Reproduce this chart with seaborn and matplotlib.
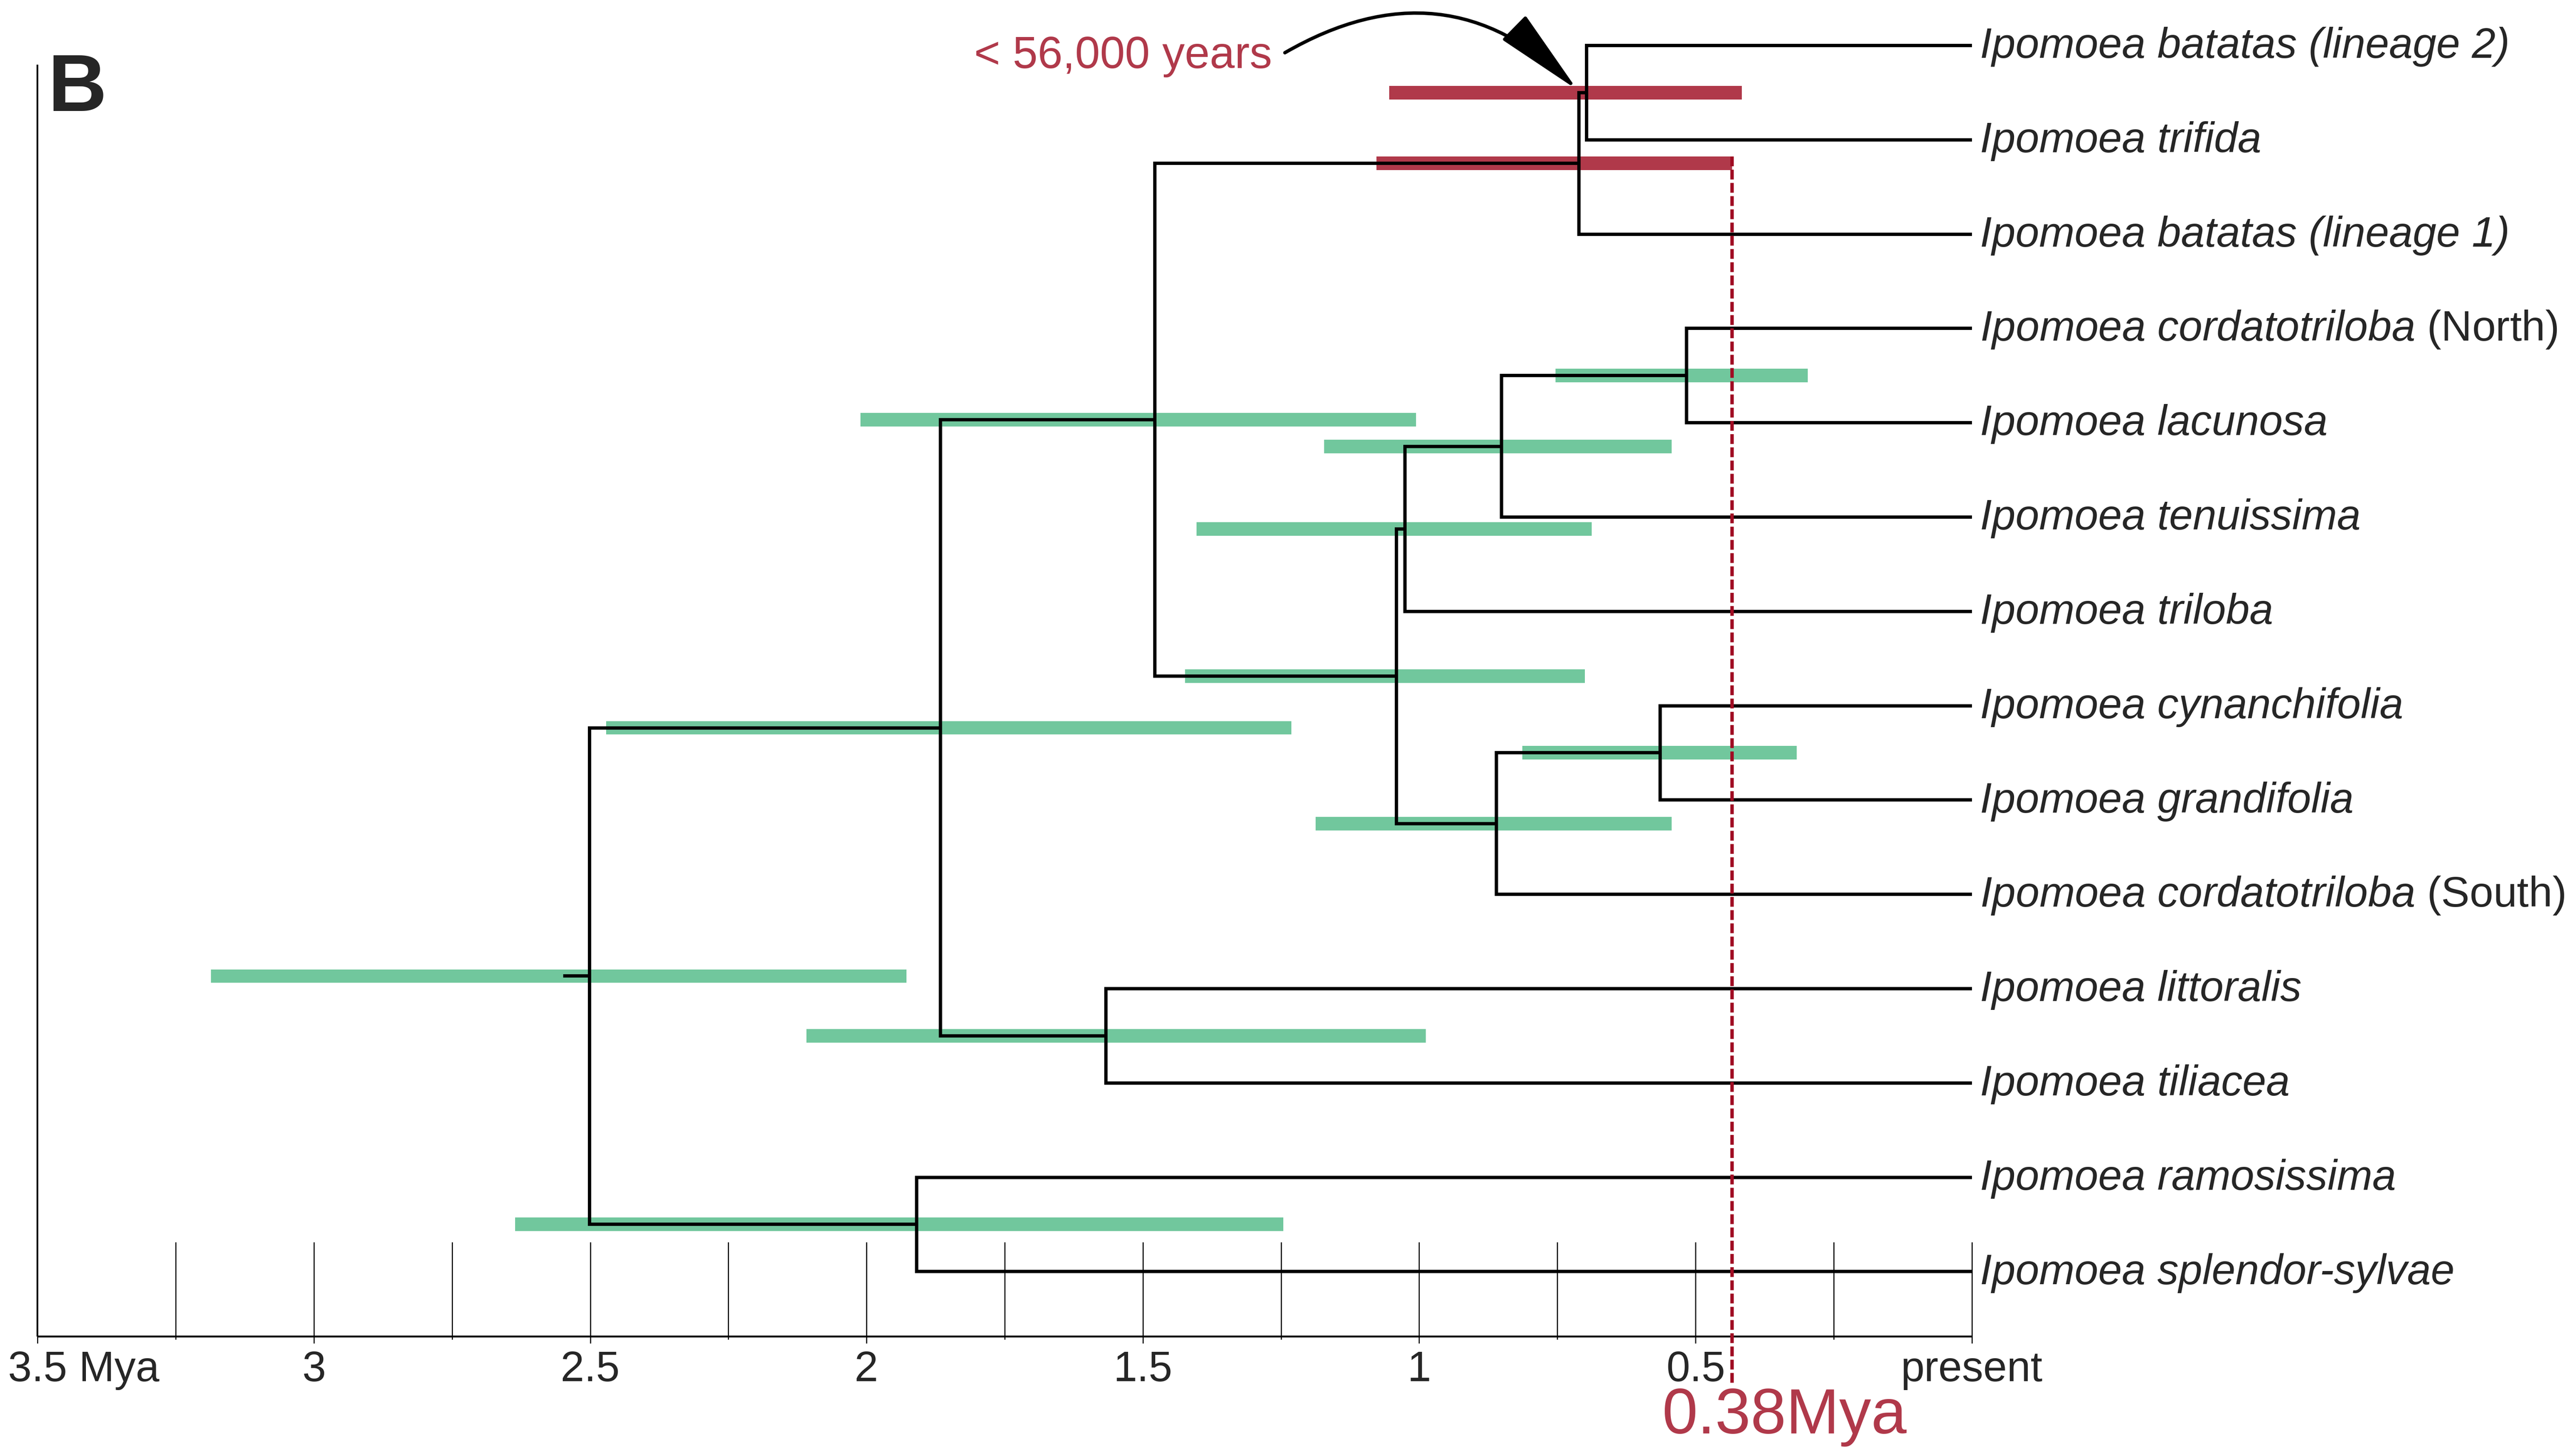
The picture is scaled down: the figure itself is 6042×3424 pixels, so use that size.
'''
Dated phylogeny of Ipomoea (sweet potato and wild relatives) with
95% HPD bars on the node ages, drawn with seaborn + matplotlib.
'''

import numpy as np
import pandas as pd
import matplotlib
matplotlib.use("Agg")
import matplotlib.pyplot as plt
import seaborn as sns

# ---- data ---------------------------------------------------------------
# tips, top to bottom (italic part, roman suffix)
TIP_NAMES = [
    "Ipomoea batatas (lineage 2)",
    "Ipomoea trifida",
    "Ipomoea batatas (lineage 1)",
    "Ipomoea cordatotriloba",
    "Ipomoea lacunosa",
    "Ipomoea tenuissima",
    "Ipomoea triloba",
    "Ipomoea cynanchifolia",
    "Ipomoea grandifolia",
    "Ipomoea cordatotriloba",
    "Ipomoea littoralis",
    "Ipomoea tiliacea",
    "Ipomoea ramosissima",
    "Ipomoea splendor-sylvae",
]
TIP_SUFFIX = ["", "", "", " (North)", "", "", "", "", "", " (South)", "", "", "", ""]

# internal nodes: children (tip index or node name), age in Mya, HPD interval
NODE_NAMES = ["bat2_tri", "batatas", "N1", "N2", "N3", "N4", "N5", "N6",
              "NA", "N7", "N8", "N9", "root"]
NODE_CHILDREN = [(0, 1), ("bat2_tri", 2), (3, 4), ("N1", 5), ("N2", 6),
                 (7, 8), ("N4", 9), ("N3", "N5"), ("batatas", "N6"),
                 (10, 11), ("NA", "N7"), (12, 13), ("N8", "N9")]
NODE_AGES = [0.697, 0.711, 0.516, 0.851, 1.026, 0.564, 0.860, 1.041,
             1.478, 1.567, 1.866, 1.909, 2.501]
HPD_OLD = [1.054, 1.077, 0.753, 1.172, 1.403, 0.813, 1.187, 1.424,
           2.011, 2.109, 2.471, 2.636, 3.186]
HPD_YOUNG = [0.416, 0.434, 0.297, 0.543, 0.688, 0.317, 0.543, 0.700,
             1.006, 0.988, 1.231, 1.246, 1.928]
NODE_GROUP = ["batatas", "batatas"] + ["other"] * 11
ROOT_STEM_AGE = 2.549

MAJOR_TICKS = [3.5, 3.0, 2.5, 2.0, 1.5, 1.0, 0.5, 0.0]
MAJOR_LABELS = ["3.5 Mya", "3", "2.5", "2", "1.5", "1", "0.5", "present"]
MINOR_TICKS = [3.25, 2.75, 2.25, 1.75, 1.25, 0.75, 0.25]

MARK_AGE = 0.434          # dashed marker line
MARK_LABEL = "0.38Mya"
NOTE_LABEL = "< 56,000 years"

GROUP_COLORS = {"batatas": "#B0394A", "other": "#71C79D"}
RED_TEXT = "#B0394A"
DASH_RED = "#A00C23"

# ---- style ---------------------------------------------------------------
sns.set_theme(style="white")
plt.rcParams["font.family"] = ["Liberation Sans", "DejaVu Sans"]
plt.rcParams["mathtext.fontset"] = "custom"
plt.rcParams["mathtext.it"] = "Liberation Sans:italic"
plt.rcParams["mathtext.rm"] = "Liberation Sans"

fig = plt.figure(figsize=(30.21, 17.12), dpi=200)
ax = fig.add_axes([0, 0, 1, 1])

# ---- node positions ------------------------------------------------------
ypos = {i: float(i) for i in range(len(TIP_NAMES))}
xpos = {i: 0.0 for i in range(len(TIP_NAMES))}
for name, (a, b), age in zip(NODE_NAMES, NODE_CHILDREN, NODE_AGES):
    ypos[name] = (ypos[a] + ypos[b]) / 2
    xpos[name] = age

# ---- branches (elbow paths) ---------------------------------------------
rows = []
seg = 0
for name, children in zip(NODE_NAMES, NODE_CHILDREN):
    for c in children:
        rows += [(seg, xpos[name], ypos[name]),
                 (seg, xpos[name], ypos[c]),
                 (seg, xpos[c], ypos[c])]
        seg += 1
root = NODE_NAMES[-1]
rows += [(seg, ROOT_STEM_AGE, ypos[root]), (seg, xpos[root], ypos[root])]
branches = pd.DataFrame(rows, columns=["seg", "age", "y"])

sns.lineplot(data=branches, x="age", y="y", units="seg", estimator=None,
             sort=False, color="black", linewidth=2.8, legend=False, ax=ax,
             solid_joinstyle="miter", solid_capstyle="butt", zorder=3)

# ---- HPD bars --------------------------------------------------------------
bar_h = 0.144
node_y = [ypos[n] for n in NODE_NAMES]
ax.barh(node_y, np.array(HPD_OLD) - np.array(HPD_YOUNG), left=HPD_YOUNG,
        height=bar_h, color=[GROUP_COLORS[g] for g in NODE_GROUP],
        linewidth=0, zorder=2)

# ---- time axis ----------------------------------------------------------
axis_y, axis_top, tick_top = 13.69, 0.203, 12.687
ax.hlines(axis_y, MAJOR_TICKS[0], MAJOR_TICKS[-1], color="black", lw=1.6, zorder=3)
ax.vlines(MAJOR_TICKS[0], axis_top, axis_y, color="black", lw=1.45, zorder=3)
ax.vlines(MAJOR_TICKS, tick_top, 13.76, color="black", lw=0.9, zorder=3)
ax.vlines(MINOR_TICKS, tick_top, 13.72, color="black", lw=0.9, zorder=3)

label_y = 14.16
for i, (t, lab) in enumerate(zip(MAJOR_TICKS, MAJOR_LABELS)):
    if i == 0:
        ax.annotate(lab, xy=(t, label_y), xytext=(-25, 0), textcoords="offset points",
                    ha="left", va="baseline", fontsize=36)
    else:
        ax.text(t, label_y, lab, ha="center", va="baseline", fontsize=36)

# ---- dashed marker -------------------------------------------------------
ax.vlines(MARK_AGE, ypos["batatas"] - bar_h / 2, 14.18, color=DASH_RED,
          lw=2.9, linestyle=(0, (2.86, 1.0)), zorder=4)
ax.text(0.561, 14.716, MARK_LABEL, color=RED_TEXT, fontsize=54,
        ha="left", va="baseline")

# ---- tip labels ------------------------------------------------------------
for i, (name, suf) in enumerate(zip(TIP_NAMES, TIP_SUFFIX)):
    if suf:
        lab = r"$\mathit{" + name.replace(" ", r"\ ") + "}$" + suf
        style = "normal"
    else:
        lab = name
        style = "italic"
    ax.annotate(lab, xy=(0, ypos[i]), xytext=(7, -10.5), textcoords="offset points",
                ha="left", va="baseline", fontsize=36, fontstyle=style)

# ---- annotation -----------------------------------------------------------
ax.text(1.8055, 0.239, NOTE_LABEL, color=RED_TEXT, fontsize=38,
        ha="left", va="baseline")
ax.annotate("", xy=(0.714, 0.47), xytext=(1.243, 0.077),
            arrowprops=dict(arrowstyle="-|>,head_length=6.6,head_width=1.25",
                            mutation_scale=10, connectionstyle="arc3,rad=-0.38",
                            color="black", lw=2.9, shrinkA=0, shrinkB=0),
            zorder=5)

fig.text(0.01854, 0.9238, "B", fontsize=69, fontweight="bold",
         ha="left", va="baseline")

ax.set_xlim(3.568, -1.0824)
ax.set_ylim(14.955, -0.482)
ax.set_axis_off()

fig.savefig("out.png", dpi=200, facecolor="white")
